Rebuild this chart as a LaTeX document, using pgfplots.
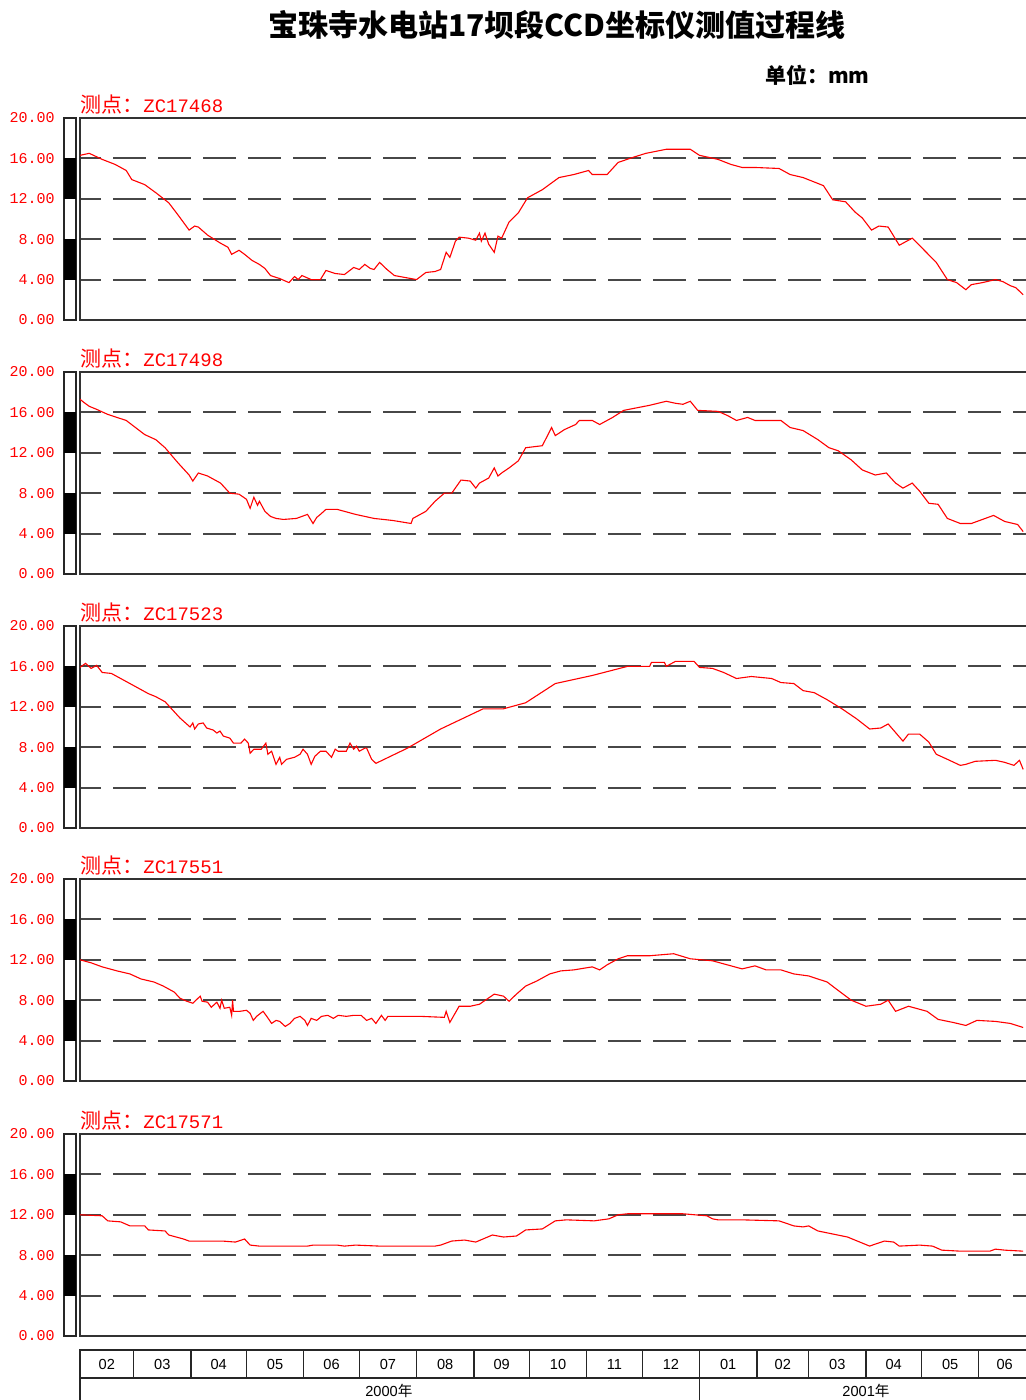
\documentclass[border=0pt]{standalone}
\usepackage{fontspec}
\usepackage{pgfplots}
\pgfplotsset{compat=1.18}
\setmainfont{Liberation Sans}
\newfontfamily\cjk{Noto Sans CJK SC}
\newfontfamily\monof{Liberation Mono}

\pgfplotsset{
  panel/.style={
    scale only axis, width=475pt, height=101pt, anchor=south west,
    xmin=0, xmax=513.7, ymin=0, ymax=20,
    ytick={0,4,...,20}, yticklabels={0.00,4.00,8.00,12.00,16.00,20.00},
    xtick=\empty, major tick length=0pt,
    ymajorgrids, major grid style={dash pattern=on 16.5pt off 6pt, dash phase=6pt, line width=1pt, black!72},
    axis line style={line width=0.9pt, black!80},
    yticklabel style={font=\monof\fontsize{7.5}{8}\selectfont, text=red, inner sep=0pt, xshift=-12.5pt},
    clip mode=individual,
  },
  curve/.style={red, line width=0.55pt, mark=none},
}
\newcommand{\sidebar}{%
  \draw[line width=0.75pt, black!85, fill=white] ([xshift=-8pt]axis cs:0,0) rectangle ([xshift=-2pt]axis cs:0,20);
  \fill[black] ([xshift=-8pt]axis cs:0,4) rectangle ([xshift=-2pt]axis cs:0,8);
  \fill[black] ([xshift=-8pt]axis cs:0,12) rectangle ([xshift=-2pt]axis cs:0,16);
}
\newcommand{\ptitle}[1]{%
  \node[anchor=base west, inner sep=0pt, text=red] at ([yshift=2.5pt]rel axis cs:0,1) {{\cjk\fontsize{10.5}{11}\selectfont 测点：}{\monof\fontsize{9.5}{10}\selectfont #1}};
}

\begin{document}
\begin{tikzpicture}
\useasboundingbox (0,0) rectangle (512.5pt,700pt);

\node[anchor=base, inner sep=0pt] at (278.5pt,681.5pt) {\cjk\bfseries\fontsize{15}{16}\selectfont 宝珠寺水电站17坝段CCD坐标仪测值过程线};
\node[anchor=base east, inner sep=0pt] at (435pt,658pt) {\cjk\bfseries\fontsize{10.5}{11}\selectfont 单位：mm};

% Panel 1
\begin{axis}[panel, at={(40pt,540pt)}]
\sidebar
\addplot[curve] coordinates {
(0,16.3)(5,16.5)(12,15.9)(19,15.4)(25,14.8)(28,13.9)(35,13.4)(41,12.6)(48,11.6)(53,10.4)(59,8.9)(62,9.3)(64,9.2)(69,8.4)(76,7.6)(80,7.2)(82,6.5)(86,6.9)(89,6.5)(93,5.9)(97,5.5)(100,5.1)(103,4.4)(108,4.1)(113,3.7)(116,4.3)(118,4.0)(120,4.4)(125,4.0)(130,4.0)(133,4.9)(138,4.6)(143,4.5)(148,5.2)(151,5.0)(154,5.5)(157,5.1)(159,5.0)(162,5.7)(166,5.0)(170,4.4)(176,4.2)(182,4.0)(187,4.7)(192,4.8)(195,5.0)(198,6.7)(200,6.2)(203,7.8)(205,8.2)(210,8.1)(214,7.9)(216,8.6)(217,7.8)(219,8.6)(221,7.5)(224,6.7)(226,8.3)(228,8.1)(232,9.7)(237,10.6)(242,12.1)(250,12.9)(259,14.1)(267,14.4)(275,14.8)(277,14.4)(285,14.4)(291,15.6)(299,16.1)(306,16.5)(317,16.9)(330,16.9)(335,16.3)(345,15.9)(352,15.4)(358,15.1)(365,15.1)(378,15.0)(384,14.4)(391,14.1)(402,13.3)(407,11.9)(414,11.7)(419,10.7)(423,10.1)(428,8.9)(432,9.3)(437,9.2)(443,7.4)(450,8.1)(456,7.0)(463,5.7)(469,4.0)(474,3.7)(479,3.0)(482,3.5)(488,3.7)(495,4.0)(499,3.8)(503,3.4)(506,3.2)(510,2.5)
};
\ptitle{ZC17468}
\end{axis}

% Panel 2
\begin{axis}[panel, at={(40pt,413pt)}]
\sidebar
\addplot[curve] coordinates {
(0,17.3)(2,17.0)(5,16.6)(9,16.3)(15,15.8)(20,15.5)(25,15.2)(30,14.5)(35,13.8)(41,13.3)(46,12.5)(53,11.0)(59,9.8)(61,9.2)(64,10.0)(69,9.7)(76,9.0)(81,8.0)(86,7.9)(90,7.4)(92,6.5)(94,7.6)(96,6.8)(97,7.2)(100,6.2)(103,5.7)(106,5.5)(110,5.4)(117,5.5)(123,5.9)(126,5.0)(128,5.6)(130,5.9)(133,6.4)(139,6.4)(149,5.9)(159,5.5)(169,5.3)(179,5.0)(180,5.5)(187,6.2)(192,7.2)(197,8.0)(201,8.0)(206,9.3)(211,9.2)(214,8.5)(216,9.0)(221,9.5)(224,10.5)(226,9.7)(228,10.0)(232,10.5)(237,11.2)(241,12.5)(250,12.7)(255,14.5)(257,13.7)(262,14.3)(268,14.8)(270,15.2)(277,15.2)(281,14.8)(288,15.5)(294,16.2)(308,16.7)(317,17.1)(322,16.9)(326,16.8)(330,17.1)(334,16.2)(345,16.1)(350,15.7)(355,15.2)(361,15.5)(365,15.2)(379,15.2)(384,14.5)(391,14.2)(399,13.3)(405,12.5)(410,12.2)(417,11.3)(423,10.3)(430,9.8)(436,10.0)(441,9.0)(445,8.5)(450,9.0)(454,8.2)(459,7.0)(464,6.9)(469,5.5)(476,5.0)(482,5.0)(488,5.4)(494,5.8)(500,5.2)(507,4.9)(510,4.2)
};
\ptitle{ZC17498}
\end{axis}

% Panel 3
\begin{axis}[panel, at={(40pt,286pt)}]
\sidebar
\addplot[curve] coordinates {
(0,15.9)(3,16.3)(6,15.8)(9,16.1)(12,15.4)(17,15.3)(22,14.8)(27,14.3)(32,13.8)(37,13.3)(41,13.0)(46,12.5)(50,11.7)(54,10.9)(59.5,10.0)(61,10.4)(62,9.8)(64,10.3)(66.6,10.4)(68.5,9.9)(72,9.7)(74,9.4)(75.7,9.6)(77.5,9.1)(81,8.9)(83,8.4)(87,8.4)(89,8.8)(91,8.4)(92,7.4)(94,7.8)(98,7.8)(100.5,8.4)(101.6,7.3)(103.6,7.6)(106,6.3)(108,7.0)(109,6.3)(111.7,6.8)(116,7.0)(119,7.3)(120.6,7.8)(123,7.3)(125,6.3)(127,7.1)(130,7.6)(133,7.6)(136,7.0)(138,7.8)(139.6,7.6)(144,7.6)(146,8.4)(148,7.8)(149.5,8.1)(151,7.6)(154,7.9)(155,7.9)(157.7,6.8)(160,6.4)(177,7.9)(195,9.8)(218,11.8)(229,11.8)(241,12.4)(257,14.3)(277,15.1)(296,16.0)(308,16.0)(309,16.4)(316,16.4)(317,16.0)(322,16.5)(332,16.5)(335,15.9)(342,15.8)(348,15.4)(355,14.8)(363,15.0)(374,14.8)(379,14.4)(386,14.3)(391,13.6)(397,13.4)(404,12.7)(412,11.8)(420,10.8)(427,9.8)(433,9.9)(437,10.3)(445,8.6)(448,9.3)(454,9.3)(459,8.5)(463,7.3)(469,6.8)(476,6.2)(479,6.3)(484,6.6)(495,6.7)(500,6.5)(505,6.2)(508,6.7)(510,5.8)
};
\ptitle{ZC17523}
\end{axis}

% Panel 4
\begin{axis}[panel, at={(40pt,159.5pt)}]
\sidebar
\addplot[curve] coordinates {
(0,12.0)(6,11.7)(12,11.3)(20,10.9)(27,10.6)(33,10.1)(40,9.8)(45,9.4)(51,8.8)(54,8.2)(57.7,7.9)(61,7.7)(65,8.4)(66,7.9)(69,7.8)(71,7.3)(74,7.8)(75.7,7.2)(76.6,8.0)(78,7.2)(81,7.3)(82,6.5)(82.5,8.0)(83,6.9)(86.5,6.9)(90,7.0)(92,6.7)(93.7,6.0)(95.5,6.4)(99,6.9)(101,6.4)(103.6,5.7)(106,6.0)(108,5.9)(111,5.4)(113.5,5.7)(116,6.2)(119,6.4)(121.6,6.0)(123,5.5)(125,6.2)(128,6.0)(130.6,6.4)(134,6.5)(137,6.2)(139.6,6.5)(144,6.4)(148,6.5)(152,6.5)(155,6.0)(157.7,6.2)(160,5.7)(163,6.5)(165,6.0)(166.5,6.4)(184,6.4)(197,6.3)(198,6.9)(200,5.8)(205,7.4)(211,7.4)(216,7.6)(224,8.6)(229,8.4)(232,7.9)(236,8.6)(241,9.4)(247,9.9)(254,10.6)(260,10.9)(267,11.0)(277,11.3)(281,11.0)(285,11.5)(291,12.1)(296,12.4)(308,12.4)(321,12.6)(330,12.1)(342,11.9)(350,11.5)(358,11.1)(365,11.4)(371,11.0)(379,11.0)(386,10.6)(394,10.4)(404,9.8)(409,9.1)(417,8.0)(425,7.4)(433,7.6)(437,8.0)(441,6.9)(448,7.4)(458,6.9)(464,6.1)(472,5.8)(479,5.5)(485,6.0)(495,5.9)(503,5.7)(510,5.3)
};
\ptitle{ZC17551}
\end{axis}

% Panel 5
\begin{axis}[panel, at={(40pt,32pt)}]
\sidebar
\addplot[curve] coordinates {
(0,12.0)(12,11.9)(15,11.4)(22,11.3)(27,10.9)(35,10.9)(37,10.5)(46,10.4)(48,10.0)(56,9.6)(59,9.4)(77,9.4)(84,9.3)(89,9.6)(92,9.0)(97,8.9)(123,8.9)(126,9.0)(139,9.0)(143,8.9)(149,9.0)(162,8.9)(192,8.9)(195,9.0)(201,9.4)(208,9.5)(214,9.3)(223,10.0)(229,9.8)(236,9.9)(241,10.5)(250,10.6)(257,11.4)(263,11.5)(278,11.4)(286,11.6)(291,12.0)(296,12.1)(326,12.1)(339,11.9)(342,11.6)(345,11.5)(358,11.5)(378,11.4)(386,10.9)(391,10.8)(394,10.9)(399,10.4)(407,10.1)(415,9.8)(419,9.5)(427,8.9)(430,9.1)(435,9.4)(440,9.3)(443,8.9)(454,9.0)(461,8.9)(466,8.5)(476,8.4)(492,8.4)(495,8.6)(500,8.5)(510,8.4)
};
\ptitle{ZC17571}
\end{axis}

% Date table
\begin{axis}[scale only axis, width=475pt, height=25pt, anchor=south west, at={(40pt,0pt)},
  xmin=0, xmax=513.7, ymin=0, ymax=25, hide axis, clip=false]
\draw[line width=1.1pt, black!85] (axis cs:0,25) -- (axis cs:513.7,25);
\draw[line width=1.1pt, black!85] (axis cs:0,11) -- (axis cs:513.7,11);
\draw[line width=1.1pt, black!85] (axis cs:0,0) -- (axis cs:0,25.5);
\pgfplotsinvokeforeach{29,60,90,121,151,182,213,243,274,304,335,366,394,425,455,486}{
  \draw[line width=0.7pt, black!85] (axis cs:#1,11) -- (axis cs:#1,25);
}
\draw[line width=0.7pt, black!85] (axis cs:335,0) -- (axis cs:335,11);
\foreach \c/\m in {14.5/02,44.5/03,75/04,105.5/05,136/06,166.5/07,197.5/08,228/09,258.5/10,289/11,319.5/12,350.5/01,380/02,409.5/03,440/04,470.5/05,500/06}{
  \edef\tmp{\noexpand\node[font=\noexpand\fontsize{7.3}{8}\noexpand\selectfont, inner sep=0pt] at (axis cs:\c,17.8) {\m};}
  \tmp
}
\node[font=\fontsize{7.3}{8}\selectfont, inner sep=0pt] at (axis cs:167,4.5) {2000{\cjk 年}};
\node[font=\fontsize{7.3}{8}\selectfont, inner sep=0pt] at (axis cs:425,4.5) {2001{\cjk 年}};
\end{axis}
\end{tikzpicture}
\end{document}
